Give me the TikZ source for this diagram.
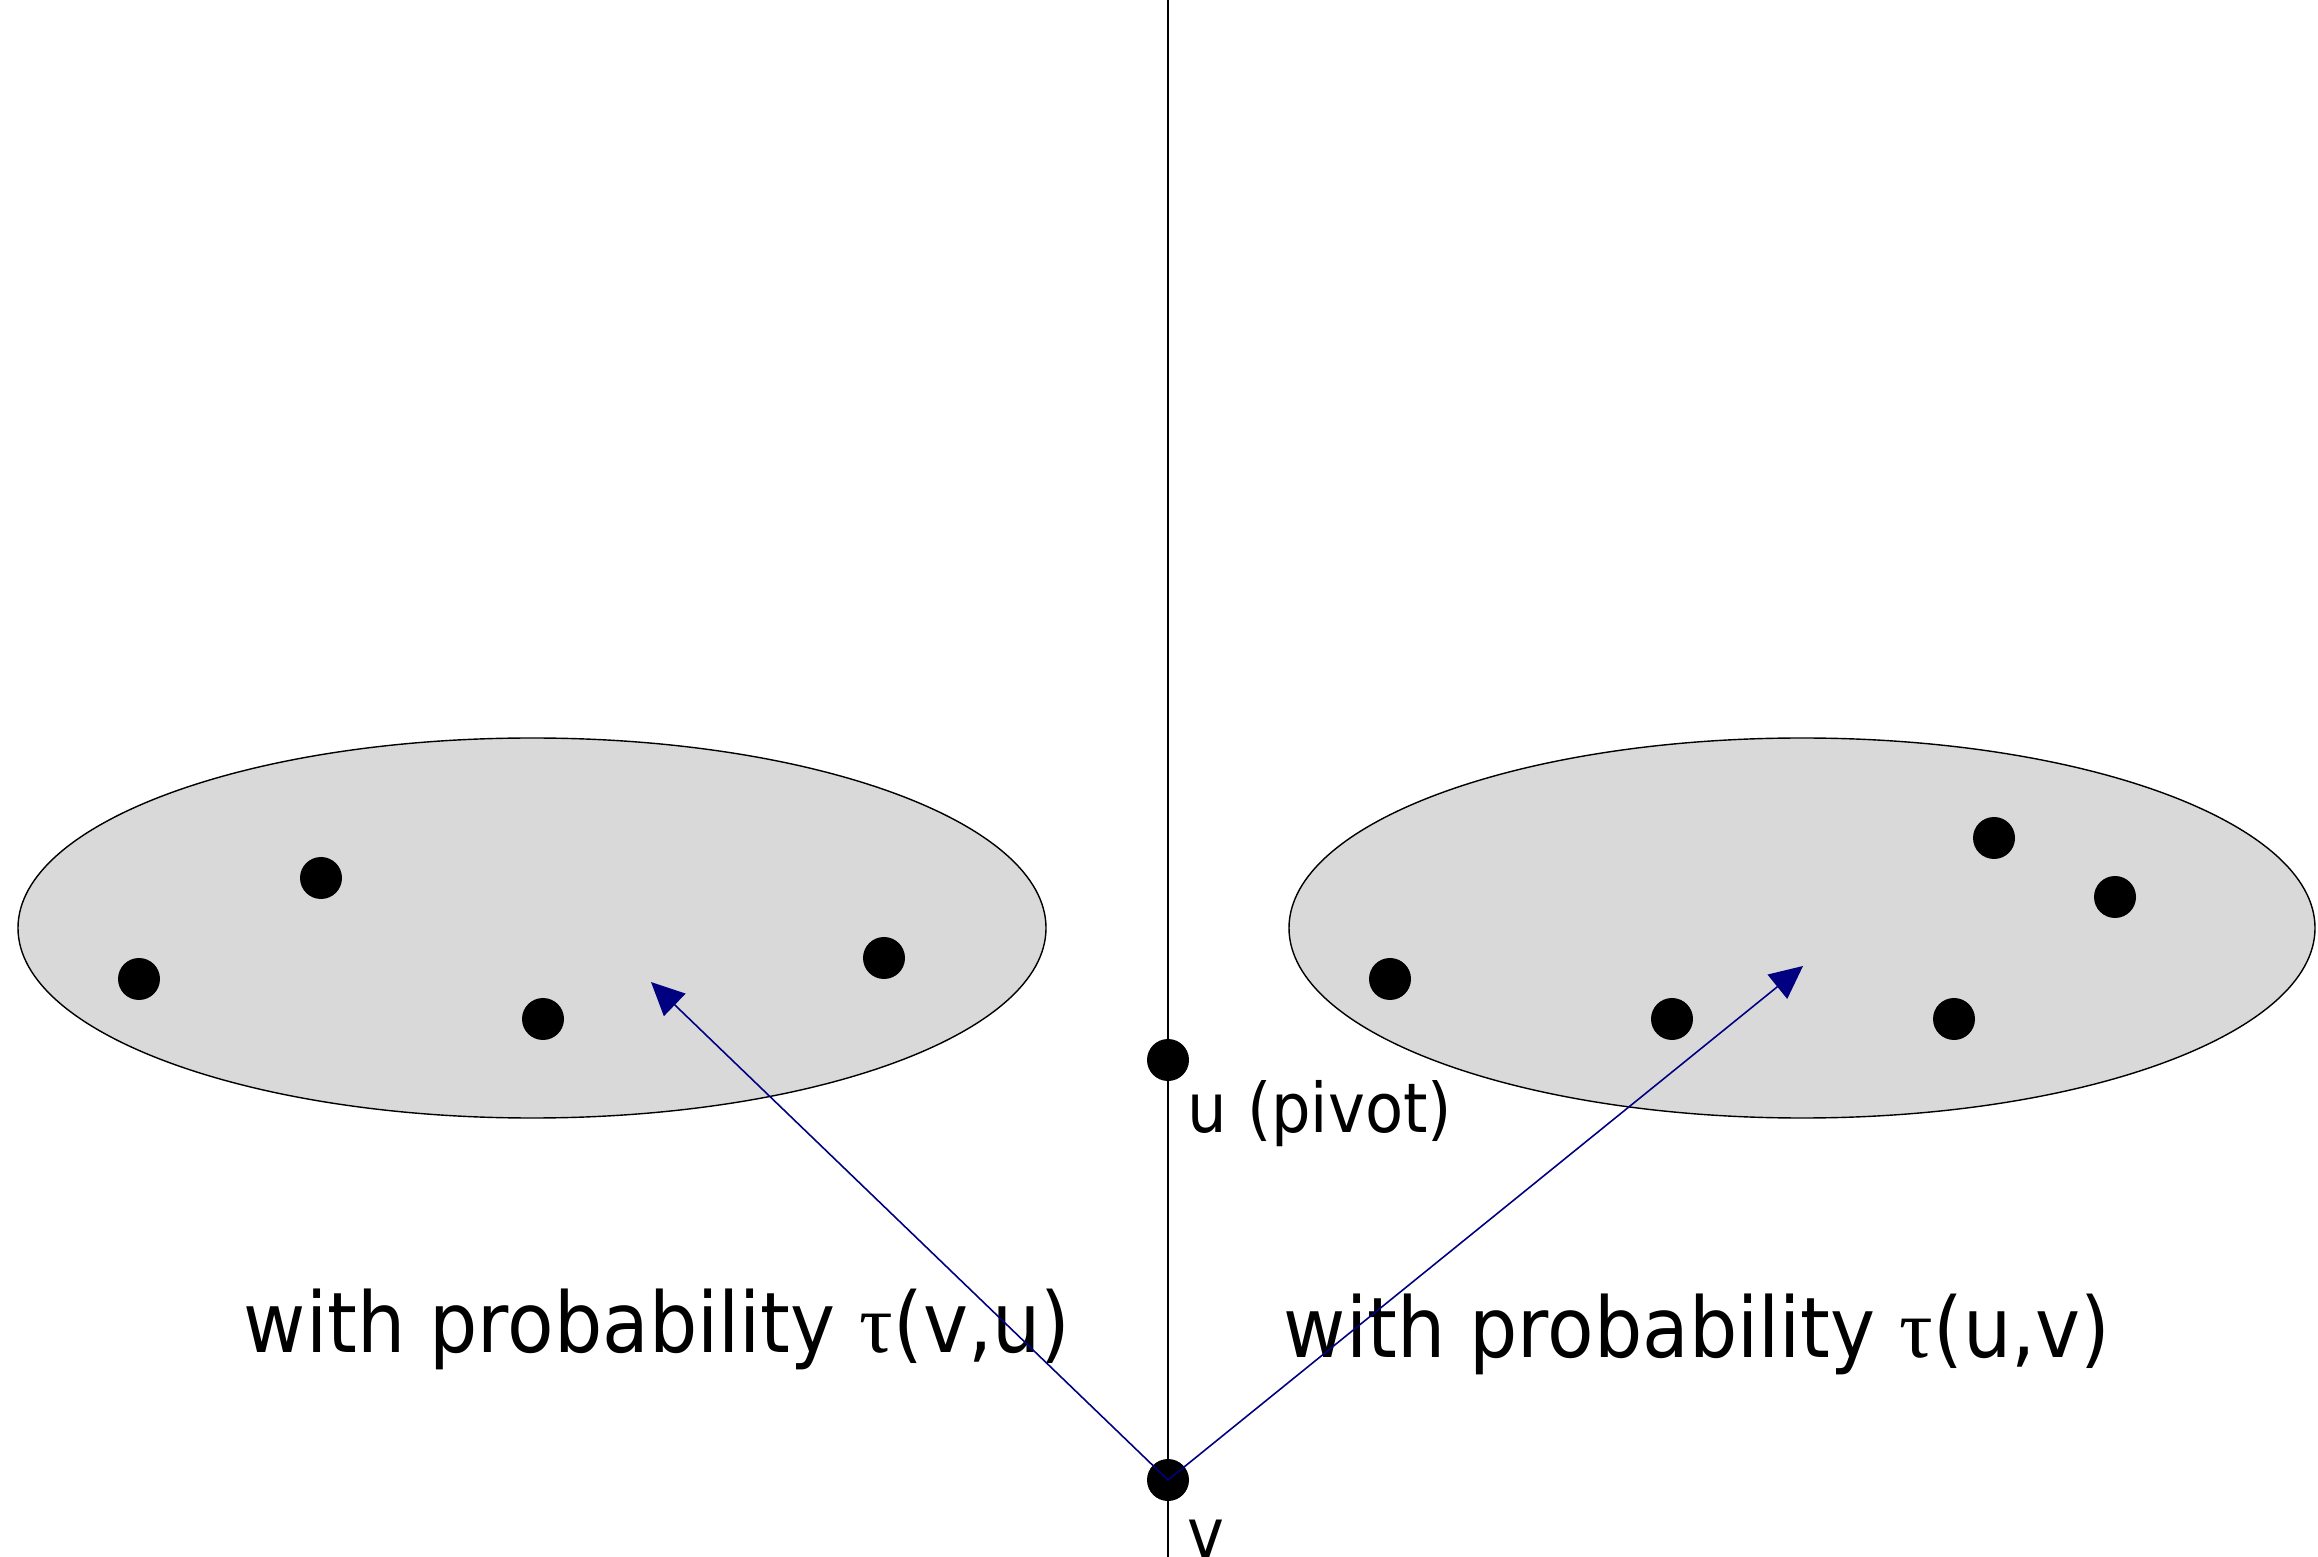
\documentclass[tikz,border=0pt]{standalone}
\usepackage{fontspec}
\setmainfont{DejaVu Sans}[FakeStretch=0.91]
\newfontfamily\taufont{Liberation Serif}
\usetikzlibrary{arrows.meta}
\definecolor{setgray}{RGB}{217,217,217}
\definecolor{arrowblue}{RGB}{0,0,128}
\tikzset{
  setellipse/.style={draw=black, line width=0.4pt, fill=setgray},
  pt/.style={circle, fill=black, inner sep=0pt, minimum size=0.42cm},
  axis/.style={draw=black, line width=0.6pt},
  probarrow/.style={draw=arrowblue, line width=0.45pt, -{Triangle[length=0.33cm, width=0.31cm]}},
  bigtext/.style={font=\fontsize{23.8}{28}\selectfont, inner sep=0pt},
  smalltext/.style={font=\fontsize{19.5}{24}\selectfont, inner sep=0pt}
}
\begin{document}
\begin{tikzpicture}
\useasboundingbox (0,0) rectangle (23.18,-15.57);
% sets
\draw[setellipse] (5.32,-9.28) ellipse [x radius=5.14cm, y radius=1.90cm];
\draw[setellipse] (18.02,-9.28) ellipse [x radius=5.13cm, y radius=1.90cm];
% vertical line
\coordinate (top) at (11.68,0);
\coordinate (bot) at (11.68,-15.57);
\draw[axis] (top) -- (bot);
% left set points
\node[pt] (l1) at (1.39,-9.79) {};
\node[pt] (l2) at (3.21,-8.78) {};
\node[pt] (l3) at (5.43,-10.19) {};
\node[pt] (l4) at (8.84,-9.58) {};
% right set points
\node[pt] (r1) at (13.90,-9.79) {};
\node[pt] (r2) at (16.72,-10.19) {};
\node[pt] (r3) at (19.94,-8.38) {};
\node[pt] (r4) at (21.15,-8.97) {};
\node[pt] (r5) at (19.54,-10.19) {};
% pivot and v
\node[pt] (u) at (11.68,-10.60) {};
\node[pt] (v) at (11.68,-14.80) {};
\node[smalltext, anchor=base west] (ulab) at (11.87,-11.32) {u (pivot)};
\node[smalltext, anchor=base west] (vlab) at (11.87,-15.57) {v};
% probability labels
\node[bigtext, anchor=base] (pl) at (6.57,-13.52) {with probability {\taufont τ}(v,u)};
\node[bigtext, anchor=base] (pr) at (16.97,-13.57) {with probability {\taufont τ}(u,v)};
% arrows
\coordinate (tl) at (6.51,-9.82);
\coordinate (tr) at (18.03,-9.66);
\draw[probarrow] (v.center) -- (tl);
\draw[probarrow] (v.center) -- (tr);
\end{tikzpicture}
\end{document}
